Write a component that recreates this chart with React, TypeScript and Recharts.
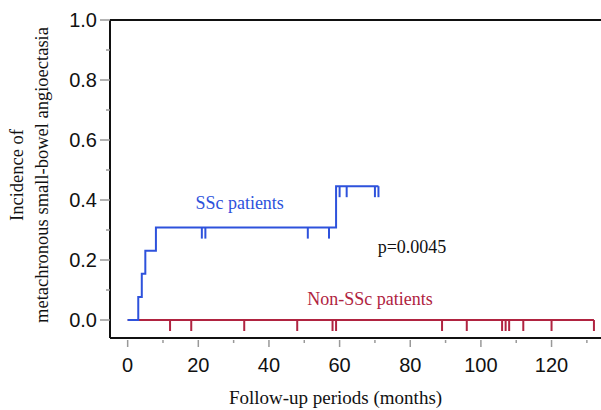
import {
  ComposedChart,
  Line,
  Scatter,
  XAxis,
  YAxis,
  ReferenceLine,
  ReferenceDot,
} from 'recharts'

// Kaplan-Meier steps (months, cumulative incidence)
const sscSteps = [
  { x: 0, y: 0 },
  { x: 3, y: 0.077 },
  { x: 4, y: 0.154 },
  { x: 5, y: 0.231 },
  { x: 8, y: 0.308 },
  { x: 59, y: 0.446 },
  { x: 71, y: 0.446 },
]
const nonSscSteps = [
  { x: 0, y: 0 },
  { x: 132, y: 0 },
]

// censored observations
const sscCensorMonths = [21, 22, 51, 57, 60, 62, 70, 71]
const nonSscCensorMonths = [12, 18, 33, 48, 58, 59, 89, 96, 106, 107, 108, 112, 120, 132]

const xTicks = [0, 10, 20, 30, 40, 50, 60, 70, 80, 90, 100, 110, 120, 130]
const yTicks = [0, 0.1, 0.2, 0.3, 0.4, 0.5, 0.6, 0.7, 0.8, 0.9, 1.0]

const BLUE = '#2e52dc'
const RED = '#b02340'
const SERIF = '"Liberation Serif", "Times New Roman", serif'
const SANS = '"Liberation Sans", Arial, sans-serif'

const sscCensor = sscCensorMonths.map((m) => {
  const y = m >= 59 ? 0.446 : 0.308
  return { x: m, y }
})
const nonSscCensor = nonSscCensorMonths.map((m) => ({ x: m, y: 0 }))

function censorShape(color: string) {
  return (props: any) => {
    const { cx, cy } = props
    return <line x1={cx} y1={cy} x2={cx} y2={cy + 11} stroke={color} strokeWidth={2} />
  }
}

function YTick(props: any) {
  const { x, y, payload } = props
  const v = payload.value
  const major = Math.round(v * 10) % 2 === 0
  return (
    <g>
      <line x1={x - (major ? 10 : 4)} y1={y} x2={x} y2={y} stroke="#999" strokeWidth={1.5} />
      {major && (
        <text x={x - 13} y={y} dy="0.36em" textAnchor="end" fontSize={20} fontFamily={SANS} fill="#111">
          {v.toFixed(1)}
        </text>
      )}
    </g>
  )
}

function XTick(props: any) {
  const { x, y, payload } = props
  const v = payload.value
  const major = v % 20 === 0
  return (
    <g>
      <line x1={x} y1={y + 2} x2={x} y2={y + (major ? 9 : 5)} stroke="#999" strokeWidth={1.5} />
      {major && (
        <text x={x} y={y + 34} textAnchor="middle" fontSize={20} fontFamily={SANS} fill="#111">
          {v}
        </text>
      )}
    </g>
  )
}

const note = (text: string, color: string) => ({
  value: text,
  position: 'center' as const,
  fill: color,
  fontSize: 18,
  fontFamily: SERIF,
})

export default function App() {
  return (
    <div style={{ position: 'absolute', left: 0, top: 0, background: '#fff' }}>
      <ComposedChart width={601} height={410} margin={{ top: 20, right: 0, bottom: 0, left: 50 }}>
        <XAxis
          type="number"
          dataKey="x"
          domain={[-5, 134]}
          ticks={xTicks}
          allowDataOverflow
          height={72}
          tickSize={0}
          tickMargin={0}
          tickLine={false}
          tick={<XTick />}
          axisLine={{ stroke: '#111', strokeWidth: 2 }}
          label={{
            value: 'Follow-up periods (months)',
            position: 'insideBottom',
            offset: 6,
            dx: -20,
            fontSize: 19,
            fontFamily: SERIF,
            fill: '#111',
          }}
        />
        <YAxis
          type="number"
          dataKey="y"
          domain={[-0.06, 1]}
          ticks={yTicks}
          allowDataOverflow
          width={60}
          tickSize={0}
          tickMargin={0}
          tickLine={false}
          tick={<YTick />}
          axisLine={{ stroke: '#111', strokeWidth: 2 }}
        />
        <ReferenceLine y={1} stroke="#111" strokeWidth={2} />
        <Line
          data={nonSscSteps}
          dataKey="y"
          type="stepAfter"
          stroke={RED}
          strokeWidth={2}
          dot={false}
          isAnimationActive={false}
        />
        <Line
          data={sscSteps}
          dataKey="y"
          type="stepAfter"
          stroke={BLUE}
          strokeWidth={2}
          dot={false}
          isAnimationActive={false}
        />
        <Scatter data={nonSscCensor} shape={censorShape(RED)} isAnimationActive={false} />
        <Scatter data={sscCensor} shape={censorShape(BLUE)} isAnimationActive={false} />
        <ReferenceDot x={31.7} y={0.39} r={0} stroke="none" label={note('SSc patients', BLUE)} />
        <ReferenceDot x={80.5} y={0.244} r={0} stroke="none" label={note('p=0.0045', '#111')} />
        <ReferenceDot x={68.6} y={0.07} r={0} stroke="none" label={note('Non-SSc patients', RED)} />
      </ComposedChart>
      <svg
        width={60}
        height={410}
        style={{ position: 'absolute', left: 0, top: 0, pointerEvents: 'none' }}
      >
        <g transform="translate(0,175) rotate(-90)" fontFamily={SERIF} fontSize={18.5} fill="#111" textAnchor="middle">
          <text x={0} y={23}>Incidence of</text>
          <text x={0} y={48}>metachronous small-bowel angioectasia</text>
        </g>
      </svg>
    </div>
  )
}
